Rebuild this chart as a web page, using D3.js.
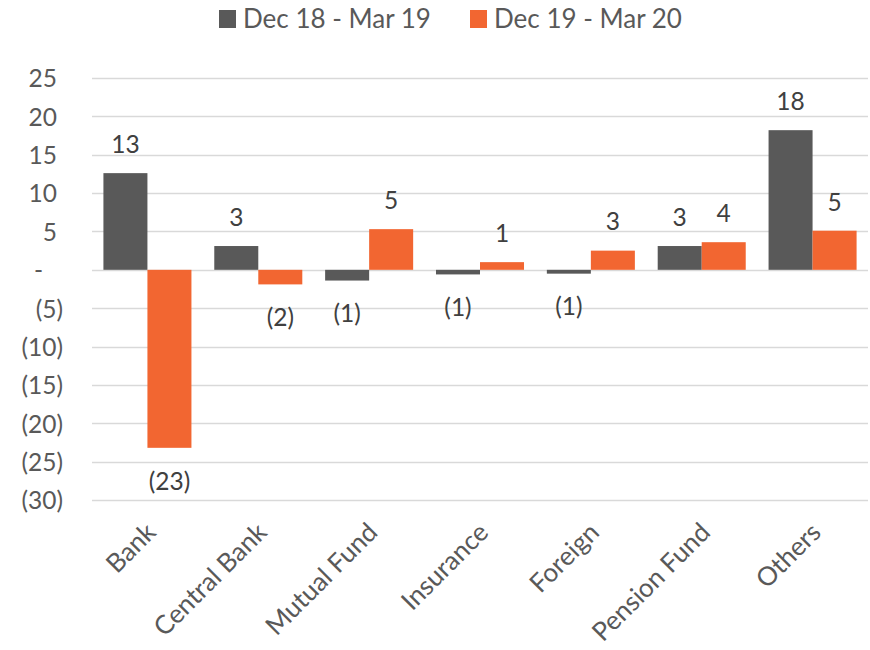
<!DOCTYPE html>
<html><head><meta charset="utf-8">
<script src="https://cdn.jsdelivr.net/npm/d3@7"></script>
<style>body{margin:0;background:#fff}svg{display:block}</style>
</head><body>
<svg id="c" width="870" height="650"></svg>
<script>
const categories = ["Bank","Central Bank","Mutual Fund","Insurance","Foreign","Pension Fund","Others"];
const seriesNames = ["Dec 18 - Mar 19","Dec 19 - Mar 20"];
const series1 = [12.6, 3.1, -1.4, -0.6, -0.5, 3.1, 18.2];
const series2 = [-23.2, -1.9, 5.3, 1.0, 2.5, 3.6, 5.1];
const yTicks = [25,20,15,10,5,0,-5,-10,-15,-20,-25,-30];
const colors = ["#595959","#F26631"];

const svg = d3.select("#c");
const font = "Lato, 'Open Sans', sans-serif";
const fmt = v => { const r = Math.round(Math.abs(v)); return v === 0 ? "-" : (v < 0 ? "(" + r + ")" : String(r)); };

const x = d3.scaleBand().domain(categories).range([92, 868]).paddingInner(0.206).paddingOuter(0.103);
const x1 = d3.scaleBand().domain([0,1]).range([0, x.bandwidth()]);
const y = d3.scaleLinear().domain([-30, 25]).range([500, 78]);

// gridlines
svg.append("g").selectAll("line").data(yTicks).join("line")
  .attr("x1", 92).attr("x2", 868)
  .attr("y1", d => Math.round(y(d)) + 0.5).attr("y2", d => Math.round(y(d)) + 0.5)
  .attr("stroke", "#d9d9d9").attr("stroke-width", 1.5);

// y axis labels
const yAxis = d3.axisLeft(y).tickValues(yTicks).tickSize(0).tickPadding(0)
  .tickFormat(d => d === 0 ? "-" : (d < 0 ? "(" + (-d) + ")" : String(d)));
const ya = svg.append("g").attr("transform", "translate(63,0)").call(yAxis);
ya.select(".domain").remove();
ya.selectAll("text").attr("font-family", font).attr("font-size", 24.5).attr("fill", "#595959")
  .attr("dy", "0.36em").attr("dx", d => d === 0 ? -20 : (d < 0 ? 0 : -6));

// bars
const data = [series1, series2];
data.forEach((s, si) => {
  const g = svg.append("g");
  g.selectAll("rect").data(s).join("rect")
    .attr("x", (d, i) => x(categories[i]) + x1(si))
    .attr("width", x1.bandwidth())
    .attr("y", d => y(Math.max(0, d)))
    .attr("height", d => Math.abs(y(d) - y(0)))
    .attr("fill", colors[si]);
  g.selectAll("text").data(s).join("text")
    .attr("x", (d, i) => x(categories[i]) + x1(si) + x1.bandwidth() / 2)
    .attr("y", d => d >= 0 ? y(d) - 29 : y(d) + 33)
    .attr("dy", "0.36em")
    .attr("text-anchor", "middle")
    .attr("font-family", font).attr("font-size", 24.5).attr("fill", "#404040")
    .text(d => fmt(d));
});

// x axis labels
const xAxis = d3.axisBottom(x).tickSize(0).tickPadding(0);
const xa = svg.append("g").call(xAxis);
xa.select(".domain").remove();
xa.selectAll(".tick").attr("transform", d => "translate(" + (x(d) + x.bandwidth() / 2 + 10) + ",534)");
xa.selectAll("text").attr("font-family", font).attr("font-size", 26).attr("fill", "#595959")
  .attr("text-anchor", "end").attr("dy", 0).attr("y", 0).attr("transform", "rotate(-45)");

// legend
const lg = svg.append("g");
const lx = [219, 470];
seriesNames.forEach((n, i) => {
  lg.append("rect").attr("x", lx[i]).attr("y", 10).attr("width", 17).attr("height", 18).attr("fill", colors[i]);
  lg.append("text").attr("x", lx[i] + 24).attr("y", 19).attr("dy", "0.36em")
    .attr("font-family", font).attr("font-size", 26).attr("fill", "#595959").text(n);
});
</script>
</body></html>
